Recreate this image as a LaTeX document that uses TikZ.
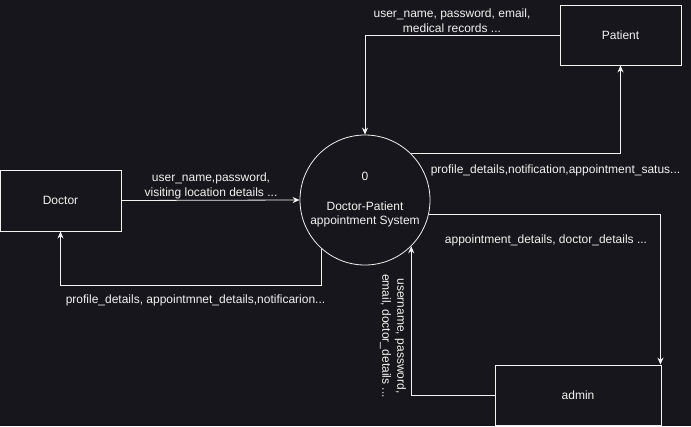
\documentclass[tikz,border=0pt]{standalone}
\usepackage{fontspec}
\setmainfont{Liberation Sans}
\usetikzlibrary{arrows.meta}
\definecolor{bg}{HTML}{18161D}
\definecolor{fg}{HTML}{F2F2F2}
\begin{document}
\begin{tikzpicture}[x=1pt,y=-1pt,
  box/.style={draw=fg, line width=0.9pt, fill=bg, text=fg, inner sep=0pt, font=\fontsize{12}{14}\selectfont},
  proc/.style={circle, draw=fg, line width=0.8pt, text=fg, align=center, inner sep=0pt, minimum size=130pt, font=\fontsize{12}{14}\selectfont},
  flow/.style={draw=fg, line width=0.8pt, -{Stealth[length=7pt,width=6pt]}},
  lbl/.style={text=fg, align=center, inner sep=1pt, font=\fontsize{12}{15}\selectfont}]
\fill[bg] (0,0) rectangle (691,426);
\useasboundingbox (0,0) rectangle (691,426);

\node[box, minimum width=121pt, minimum height=61pt] (doctor) at (60.5,200.5) {Doctor};
\node[box, minimum width=121pt, minimum height=60pt] (patient) at (620.5,35) {Patient};
\node[box, minimum width=166pt, minimum height=60pt] (admin) at (578,395) {admin};
\node[proc] (sys) at (365,200) {0\\[16pt]Doctor-Patient\\appointment System};

\draw[flow] (patient.west) -| (sys.north);
\draw[flow] (sys.45) -| (patient.south);
\draw[flow] (sys.-13) -| ([xshift=-1pt]admin.north east);
\draw[flow] (admin.west) -| (sys.-45);
\draw[flow] (doctor.east) -- (sys.west);
\draw[flow] (sys.-132) -- ++(0,37) -| (doctor.south);

\node[lbl] (l1) at (452,20.5) {user\_name, password, email,\\medical records ...};
\node[lbl] (l2) at (555.5,170) {profile\_details,notification,appointment\_satus...};
\node[lbl] (l3) at (546,240) {appointment\_details, doctor\_details ...};
\node[lbl, rotate=-90] (l4) at (393,336) {username, password,\\email, doctor\_details ...};
\node[lbl] (l5) at (211,185.5) {user\_name,password,\\visiting location details ...};
\node[lbl] (l6) at (195.5,300) {profile\_details, appointmnet\_details,notificarion...};
\end{tikzpicture}
\end{document}
